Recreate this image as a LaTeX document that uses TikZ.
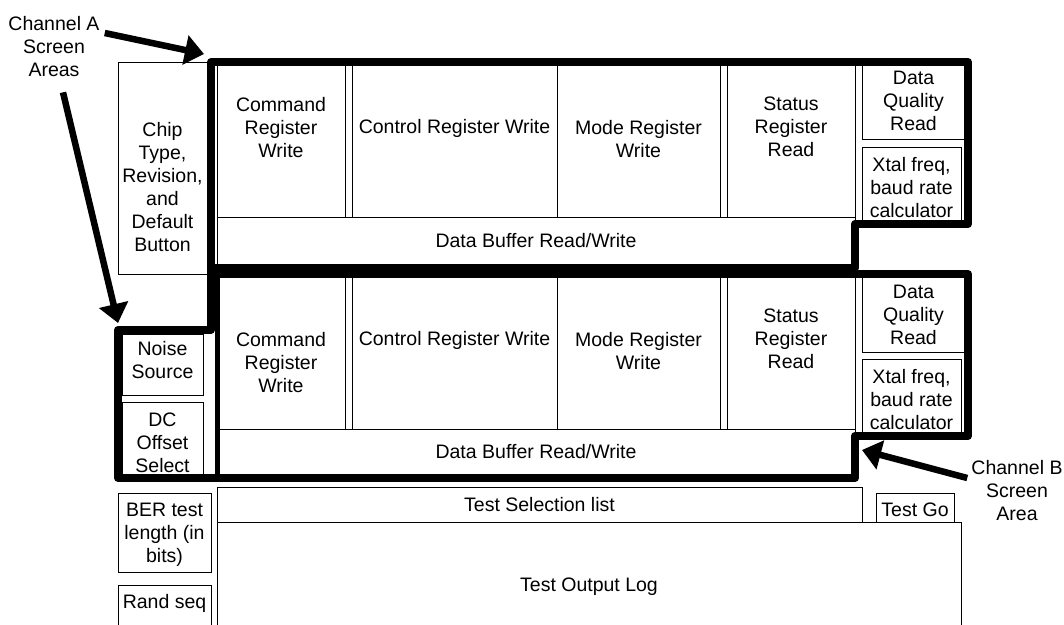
\documentclass[tikz,border=0pt]{standalone}
\usepackage{fontspec}
\setmainfont{Liberation Sans}
\usetikzlibrary{arrows.meta}
\newcommand{\panelfont}{\fontsize{19.5pt}{23pt}\selectfont}

\begin{document}
\begin{tikzpicture}[x=1pt, y=-1pt,
		panel/.style={rectangle, draw, line width=1pt, inner sep=0pt},
		caption/.style={font=\panelfont, align=center, inner sep=0pt},
		arealine/.style={line width=8pt, line join=round},
		callout/.style={-{Triangle[length=19pt, width=29pt]}, line width=6.5pt}]
		\useasboundingbox (0,0) rectangle (1064,624);

		% channel A panels
		\node[panel, minimum width=89pt, minimum height=212pt, label={[caption, yshift=-19pt]center:Chip\\Type,\\Revision,\\and\\Default\\Button}](chipBox) at (162.5,168){};
		\node[panel, minimum width=128pt, minimum height=155pt, label={[caption, yshift=11.5pt]center:Command\\Register\\Write}](cmdA) at (281,139.5){};
		\node[panel, minimum width=205pt, minimum height=155pt, label={[caption, yshift=11.5pt]center:Control Register Write}](ctlA) at (454.5,139.5){};
		\node[panel, minimum width=163pt, minimum height=155pt, label={[caption]center:Mode Register\\Write}](modeA) at (638.5,139.5){};
		\node[panel, minimum width=128pt, minimum height=155pt, label={[caption, yshift=12.5pt]center:Status\\Register\\Read}](statA) at (791,139.5){};
		\node[panel, minimum width=103pt, minimum height=77pt, label={[caption]center:Data\\Quality\\Read}](qualA) at (913.5,100.5){};
		\node[panel, minimum width=99pt, minimum height=77pt, label={[caption, yshift=-2pt]center:Xtal freq,\\baud rate\\calculator}](xtalA) at (911.5,185.5){};
		\node[panel, minimum width=638pt, minimum height=51pt, label={[caption, yshift=2pt]center:Data Buffer Read/Write}](bufA) at (536,242.5){};

		% channel B panels
		\node[panel, minimum width=81pt, minimum height=61pt, label={[caption, yshift=4pt]center:Noise\\Source}](noiseBox) at (162.5,364.5){};
		\node[panel, minimum width=81pt, minimum height=76pt, label={[caption, yshift=-3pt]center:DC\\Offset\\Select}](offsetBox) at (162.5,440){};
		\node[panel, minimum width=128pt, minimum height=155pt, label={[caption, yshift=-11.5pt]center:Command\\Register\\Write}](cmdB) at (281,351.5){};
		\node[panel, minimum width=205pt, minimum height=155pt, label={[caption, yshift=11.5pt]center:Control Register Write}](ctlB) at (454.5,351.5){};
		\node[panel, minimum width=163pt, minimum height=155pt, label={[caption]center:Mode Register\\Write}](modeB) at (638.5,351.5){};
		\node[panel, minimum width=128pt, minimum height=155pt, label={[caption, yshift=12.5pt]center:Status\\Register\\Read}](statB) at (791,351.5){};
		\node[panel, minimum width=103pt, minimum height=78pt, label={[caption, yshift=-2pt]center:Data\\Quality\\Read}](qualB) at (913.5,313){};
		\node[panel, minimum width=99pt, minimum height=77pt, label={[caption, yshift=-2pt]center:Xtal freq,\\baud rate\\calculator}](xtalB) at (911.5,397.5){};
		\node[panel, minimum width=638pt, minimum height=49pt, label={[caption, yshift=1.5pt]center:Data Buffer Read/Write}](bufB) at (536,453.5){};

		% test panels
		\node[panel, minimum width=93pt, minimum height=79pt, label={[caption, yshift=-2.5pt]center:BER test\\length (in\\bits)}](berBox) at (164.5,532.5){};
		\node[panel, minimum width=93pt, minimum height=55pt, label={[caption, yshift=9.5pt]center:Rand seq}](randBox) at (164.5,612.5){};
		\node[panel, minimum width=645pt, minimum height=35pt, label={[caption]center:Test Selection list}](selBox) at (539.5,504.5){};
		\node[panel, minimum width=78pt, minimum height=29pt, label={[caption, yshift=-2.5pt]center:Test Go}](goBox) at (915,507.5){};
		\node[panel, minimum width=744pt, minimum height=130pt, label={[caption]center:Test Output Log}](logBox) at (589,587){};

		% screen area outlines
		\draw[arealine] (211,62) -- (968,62) -- (968,224) -- (855,224) -- (855,268) -- (211,268) -- cycle;
		\draw[arealine] (118,330) -- (211,330) -- (211,274) -- (968,274) -- (968,436) -- (855,436) -- (855,478) -- (118,478) -- cycle;
		\draw[arealine, line width=5pt] (217.5,274) -- (217.5,478);

		% callouts
		\node[caption](chanA) at (54,47){Channel A\\Screen\\Areas};
		\node[caption](chanB) at (1017,491){Channel B\\Screen\\Area};
		\coordinate (tipTop) at (204,54);
		\coordinate (tipLeft) at (118,323);
		\coordinate (tipRight) at (862,450);
		\draw[callout] ([shift={(5,-14)}]chanA.east) -- (tipTop);
		\draw[callout] ([shift={(9,15)}]chanA.south) -- (tipLeft);
		\draw[callout] ([shift={(-4,-13)}]chanB.west) -- (tipRight);
	\end{tikzpicture}
\end{document}
